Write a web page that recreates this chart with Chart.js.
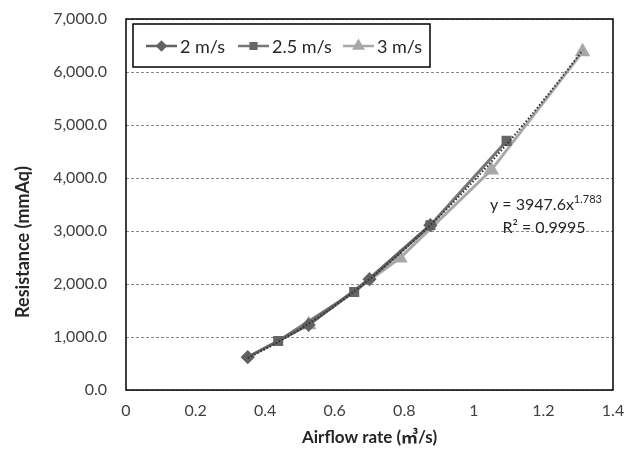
<!DOCTYPE html>
<html>
<head>
<meta charset="utf-8">
<script src="https://cdn.jsdelivr.net/npm/chart.js@4.4.1/dist/chart.umd.min.js"></script>
<style>
  html, body { margin: 0; padding: 0; background: #fff; }
  #wrap { width: 640px; height: 452px; }
</style>
</head>
<body>
<div id="wrap"><canvas id="chart" width="640" height="452"></canvas></div>
<script>
// airflow rate (m3/s) and resistance (mmAq) per face velocity
var flow2 = [0.35, 0.525, 0.70, 0.875];
var res2 = [620, 1230, 2090, 3110];
var flow25 = [0.4375, 0.656, 0.875, 1.094];
var res25 = [925, 1850, 3110, 4700];
var flow3 = [0.525, 0.7875, 1.05, 1.3125];
var res3 = [1230, 2490, 4150, 6380];

var seriesNames = ['2 m/s', '2.5 m/s', '3 m/s'];
var xTicks = [0, 0.2, 0.4, 0.6, 0.8, 1, 1.2, 1.4];
var yTicks = [0, 1000, 2000, 3000, 4000, 5000, 6000, 7000];
var yTitle = 'Resistance (mmAq)';
var xTitle = 'Airflow rate (\u33a5/s)';

// power trendline y = a * x^b
var trendA = 3947.6;
var trendB = 1.783;
var trendR2 = '0.9995';

var FONT = 'Lato, "Noto Sans CJK KR", sans-serif';

function pts(xs, ys) {
  return xs.map(function (x, i) { return {x: x, y: ys[i]}; });
}

// dashed horizontal grid
var dashGrid = {
  id: 'dashGrid',
  beforeDatasetsDraw: function (chart) {
    var a = chart.chartArea, ctx = chart.ctx, ys = chart.scales.y;
    ctx.save();
    ctx.strokeStyle = '#8a8a8a';
    ctx.lineWidth = 1;
    ctx.setLineDash([3, 2]);
    yTicks.forEach(function (v) {
      var py = Math.round(ys.getPixelForValue(v)) + 0.5;
      ctx.beginPath();
      ctx.moveTo(a.left, py);
      ctx.lineTo(a.right, py);
      ctx.stroke();
    });
    ctx.restore();
  }
};

// rotated y title, sitting a bit below the axis middle
var yTitlePlugin = {
  id: 'yTitlePlugin',
  afterDraw: function (chart) {
    var ctx = chart.ctx;
    ctx.save();
    ctx.translate(23, 242);
    ctx.rotate(-Math.PI / 2);
    ctx.fillStyle = '#262626';
    ctx.font = 'bold 18px ' + FONT;
    ctx.textAlign = 'center';
    ctx.textBaseline = 'middle';
    ctx.fillText(yTitle, 0, 0);
    ctx.restore();
  }
};

var trendline = {
  id: 'trendline',
  afterDatasetsDraw: function (chart) {
    var ctx = chart.ctx, xs = chart.scales.x, ys = chart.scales.y;
    var all = flow2.concat(flow25, flow3);
    var x0 = Math.min.apply(null, all), x1 = Math.max.apply(null, all);
    ctx.save();
    ctx.strokeStyle = '#333';
    ctx.lineWidth = 2;
    ctx.setLineDash([1.5, 2]);
    ctx.beginPath();
    for (var i = 0; i <= 60; i++) {
      var x = x0 + (x1 - x0) * i / 60;
      var px = xs.getPixelForValue(x), py = ys.getPixelForValue(trendA * Math.pow(x, trendB));
      if (i === 0) ctx.moveTo(px, py); else ctx.lineTo(px, py);
    }
    ctx.stroke();
    ctx.setLineDash([]);

    // equation label
    ctx.fillStyle = '#262626';
    ctx.textBaseline = 'alphabetic';
    var main = 'y = ' + trendA + 'x';
    ctx.font = '16px ' + FONT;
    var w1 = ctx.measureText(main).width;
    ctx.font = '11px ' + FONT;
    var w2 = ctx.measureText(String(trendB)).width;
    var left = 546 - (w1 + w2) / 2;
    ctx.font = '16px ' + FONT;
    ctx.textAlign = 'left';
    ctx.fillText(main, left, 210);
    ctx.font = '11px ' + FONT;
    ctx.fillText(String(trendB), left + w1, 203);
    ctx.font = '16px ' + FONT;
    ctx.textAlign = 'center';
    ctx.fillText('R\u00b2 = ' + trendR2, 544, 233);
    ctx.restore();
  }
};

var boxLegend = {
  id: 'boxLegend',
  afterDraw: function (chart) {
    var ctx = chart.ctx;
    ctx.save();
    ctx.fillStyle = '#fff';
    ctx.fillRect(133, 24, 297, 43);
    ctx.strokeStyle = '#000';
    ctx.lineWidth = 1.5;
    ctx.strokeRect(133, 24, 297, 43);
    var starts = [146, 238, 343];
    var cy = 46;
    chart.data.datasets.forEach(function (ds, i) {
      var sx = starts[i];
      ctx.strokeStyle = ds.borderColor;
      ctx.lineWidth = 2.5;
      ctx.beginPath();
      ctx.moveTo(sx, cy);
      ctx.lineTo(sx + 31, cy);
      ctx.stroke();
      ctx.fillStyle = ds.pointBackgroundColor;
      ctx.strokeStyle = ds.pointBackgroundColor;
      Chart.helpers.drawPoint(ctx, {
        pointStyle: ds.pointStyle,
        radius: ds.pointRadius - 1,
        borderWidth: 1
      }, sx + 15.5, cy);
      ctx.fillStyle = '#262626';
      ctx.font = '18px ' + FONT;
      ctx.textAlign = 'left';
      ctx.textBaseline = 'middle';
      ctx.fillText(ds.label, sx + 34, cy + 1);
    });
    ctx.restore();
  }
};

var frame = {
  id: 'frame',
  afterDatasetsDraw: function (chart) {
    var a = chart.chartArea, ctx = chart.ctx;
    ctx.save();
    ctx.strokeStyle = '#000';
    ctx.lineWidth = 1.5;
    ctx.strokeRect(a.left, a.top, a.right - a.left, a.bottom - a.top);
    ctx.restore();
  }
};

new Chart(document.getElementById('chart'), {
  type: 'scatter',
  data: {
    datasets: [
      {
        label: seriesNames[0],
        data: pts(flow2, res2),
        showLine: true,
        borderColor: '#626262',
        backgroundColor: '#626262',
        pointBackgroundColor: '#626262',
        pointBorderColor: '#626262',
        pointStyle: 'rectRot',
        pointRadius: 5,
        borderWidth: 3
      },
      {
        label: seriesNames[1],
        data: pts(flow25, res25),
        showLine: true,
        borderColor: '#777',
        backgroundColor: '#666',
        pointBackgroundColor: '#666',
        pointBorderColor: '#666',
        pointStyle: 'rect',
        pointRadius: 5,
        borderWidth: 3
      },
      {
        label: seriesNames[2],
        data: pts(flow3, res3),
        showLine: true,
        borderColor: '#a8a8a8',
        backgroundColor: '#a8a8a8',
        pointBackgroundColor: '#a8a8a8',
        pointBorderColor: '#a8a8a8',
        pointStyle: 'triangle',
        pointRadius: 6,
        borderWidth: 3
      }
    ]
  },
  options: {
    responsive: false,
    animation: false,
    layout: { padding: { top: 19, right: 27, left: 0, bottom: 0 } },
    plugins: {
      legend: { display: false },
      tooltip: { enabled: false }
    },
    scales: {
      x: {
        type: 'linear',
        min: 0, max: 1.4,
        afterBuildTicks: function (s) { s.ticks = xTicks.map(function (v) { return {value: v}; }); },
        afterFit: function (s) { s.height = 62; s.paddingLeft = 0; s.paddingRight = 0; },
        grid: { display: false, drawTicks: false },
        border: { display: false },
        ticks: {
          padding: 11,
          color: '#404040',
          font: { family: FONT, size: 16 },
          maxRotation: 0,
          callback: function (v) { return String(+v.toFixed(1)); }
        },
        title: {
          display: true,
          text: xTitle,
          color: '#262626',
          font: { family: FONT, size: 17, weight: 'bold' },
          padding: { top: 2 }
        }
      },
      y: {
        type: 'linear',
        min: 0, max: 7000,
        afterBuildTicks: function (s) { s.ticks = yTicks.map(function (v) { return {value: v}; }); },
        afterFit: function (s) { s.width = 126; s.paddingTop = 0; s.paddingBottom = 0; },
        grid: { display: false, drawTicks: false },
        border: { display: false },
        ticks: {
          padding: 19,
          color: '#404040',
          font: { family: FONT, size: 16 },
          callback: function (v) {
            return v.toLocaleString('en-US', { minimumFractionDigits: 1, maximumFractionDigits: 1 });
          }
        },
        title: { display: false }
      }
    }
  },
  plugins: [dashGrid, frame, trendline, boxLegend, yTitlePlugin]
});
</script>
</body>
</html>
